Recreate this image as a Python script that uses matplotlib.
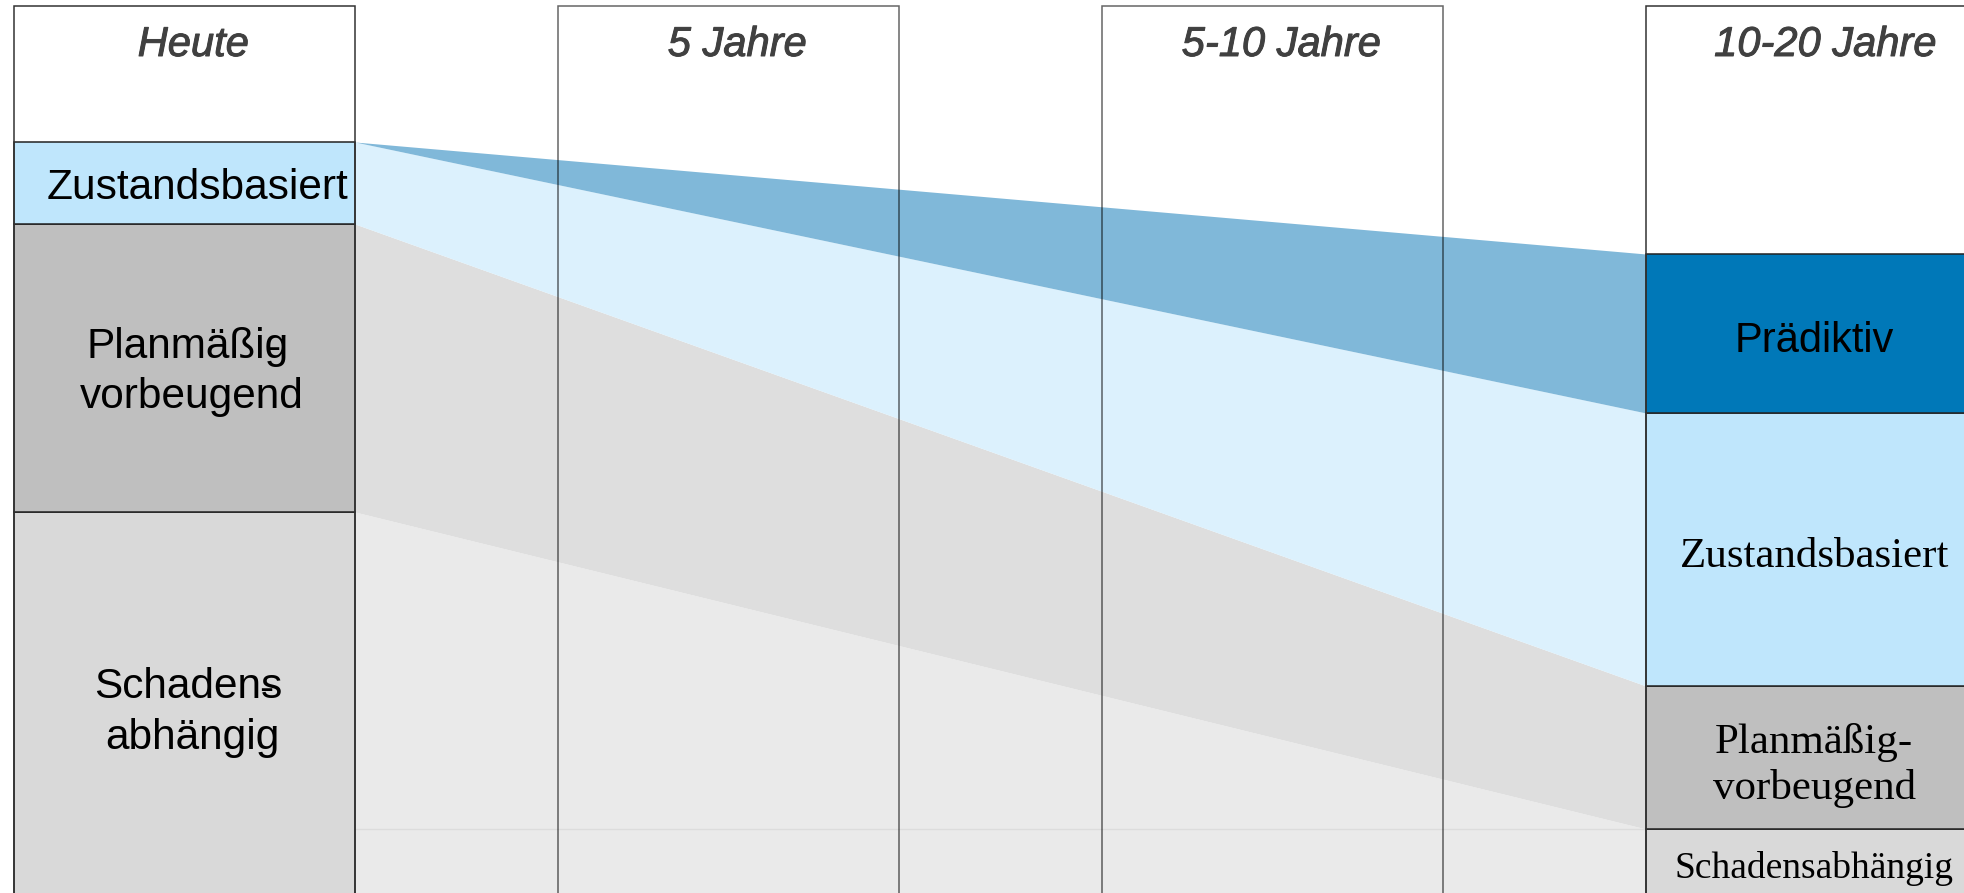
import matplotlib.pyplot as plt
import matplotlib.patheffects as pe
import numpy as np

# zeitachse
years = ["Heute", "5 Jahre", "5-10 Jahre", "10-20 Jahre"]
column_height = 899

# anteile heute, von unten nach oben
heute_labels = [("Schadens", "abhängig"), ("Planmäßig", "vorbeugend"), ("Zustandsbasiert",)]
heute_values = [393, 288, 82]

# anteile in 10-20 jahren, von unten nach oben
future_labels = ["Schadensabhängig", "Planmäßig-\nvorbeugend", "Zustandsbasiert", "Prädiktiv"]
future_values = [76, 143, 273, 159]

SANS = "Liberation Sans"
SERIF = "Liberation Serif"

fig = plt.figure(figsize=(19.64, 8.93), dpi=100)
ax = fig.add_axes([0, 0, 1, 1])
w = 341 / 544
ax.set_xlim(-184.5 / 544, (1964 - 184.5) / 544)
ax.set_ylim(column_height + 6 - 893, column_height + 6)
ax.axis("off")

x = np.arange(len(years))
xl, xr = x[0] + w / 2, x[-1] - w / 2

# stacked boundaries
hb = np.concatenate([[0], np.cumsum(heute_values)])
fb = np.concatenate([[0], np.cumsum(future_values)])

# bands between today and 10-20 years
ax.fill_between([xl, xr], [hb[0], fb[0]], [hb[1], fb[1]], color="#eaeaea", lw=0, zorder=1)
ax.fill_between([xl, xr], [hb[1], fb[1]], [hb[2], fb[2]], color="#dedede", lw=0, zorder=1)
ax.fill_between([xl, xr], [hb[2], fb[2]], [hb[3], fb[3]], color="#dcf1fd", lw=0, zorder=1)
ax.fill_between([xl, xr], [hb[3], fb[3]], [hb[3], fb[4]], color="#80b8d9", lw=0, zorder=1)
ax.plot([xl, xr], [fb[1], fb[1]], color="#dcdcdc", lw=1, zorder=1.5)

# column frames
ax.bar(x[1:3], column_height, width=w, fill=False, edgecolor="#000000", lw=1.1, alpha=0.6, zorder=2)

heute_colors = ["#d9d9d9", "#bfbfbf", "#bfe6fc"]
future_colors = ["#d9d9d9", "#bfbfbf", "#bfe6fc", "#0078b8"]
ax.bar(x[0], heute_values, width=w, bottom=hb[:-1], color=heute_colors, edgecolor="#222222", lw=1.1, zorder=3)
ax.bar(x[-1], future_values, width=w, bottom=fb[:-1], color=future_colors, edgecolor="#222222", lw=1.1, zorder=3)
ax.bar([x[0], x[-1]], column_height, width=w, fill=False, edgecolor="#333333", lw=1.1, zorder=4)

thick = [pe.withStroke(linewidth=0.7, foreground="#404040")]
for xi, year in zip(x, years):
    ax.text(xi + 0.016, column_height - 39, year, ha="center", va="center", fontsize=30,
            style="italic", color="#404040", family=SANS, path_effects=thick, zorder=5)

# labels heute
tx = x[0] + 0.014
for lines, lo, hi in zip(heute_labels, hb[:-1], hb[1:]):
    mid = (lo + hi) / 2
    if len(lines) == 1:
        ax.text(tx + 0.009, mid - 5, lines[0], ha="center", va="center", fontsize=30.5,
                family=SANS, zorder=5)
        continue
    t1 = ax.text(tx - 0.008, mid + 10, lines[0], ha="center", va="baseline", fontsize=30.5,
                 family=SANS, zorder=5)
    ax.text(tx, mid - 40, lines[1], ha="center", va="baseline", fontsize=30.5, family=SANS, zorder=5)
    # trennstrich liegt ueber dem letzten buchstaben
    ax.annotate("-", xy=(1, 0), xycoords=t1, xytext=(-6, 5), textcoords="offset points",
                ha="right", va="baseline", fontsize=30.5, family=SANS, zorder=5)

# labels 10-20 jahre
fx = x[-1] - 0.004
sizes = [27, 31, 31, 30]
fams = [SERIF, SERIF, SERIF, SANS]
shifts = [-2, -8, -7, -7]
for label, lo, hi, fs, fam, dy in zip(future_labels, fb[:-1], fb[1:], sizes, fams, shifts):
    ax.text(fx, (lo + hi) / 2 + dy, label, ha="center", va="center", fontsize=fs, family=fam,
            linespacing=1.25, zorder=5)

fig.savefig("out.png", dpi=100)
